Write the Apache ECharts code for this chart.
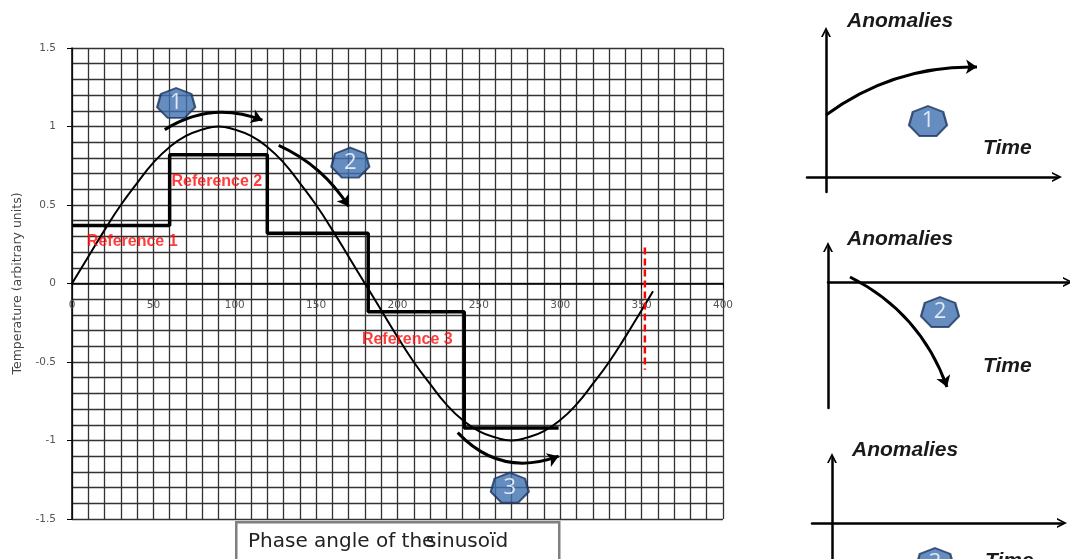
<!DOCTYPE html>
<html><head><meta charset="utf-8">
<script src="https://cdn.jsdelivr.net/npm/echarts@6/dist/echarts.min.js"></script>
<style>html,body{margin:0;padding:0;background:#fff}#c{width:1070px;height:559px}</style>
</head><body><div id="c"></div>
<script>
// ---------------- data ----------------
const phaseDeg = [0,10,20,30,40,50,60,70,80,90,100,110,120,130,140,150,160,170,180,190,200,210,220,230,240,250,260,270,280,290,300,310,320,330,340,350,357];
const sinusoid = [0,0.17,0.34,0.5,0.64,0.77,0.87,0.94,0.98,1.0,0.98,0.94,0.87,0.77,0.64,0.5,0.34,0.17,0,-0.17,-0.34,-0.5,-0.64,-0.77,-0.87,-0.94,-0.98,-1.0,-0.98,-0.94,-0.87,-0.77,-0.64,-0.5,-0.34,-0.17,-0.05];
const stepEdges = [0,60,120,182,241,299];
const stepLevels = [0.37,0.82,0.32,-0.18,-0.92];
const refNames = ['Reference 1','Reference 2','Reference 3'];
const refAt = [[37,0.27],[89,0.65],[206,-0.36]];
const markerX = 352;
const markerY = [0.23,-0.55];
const badgeNames = ['1','2','3'];
const badgeAt = [[64,1.15],[171,0.77],[269,-1.30]];
// trend arrows: [from, to]
const arrowFrom = [[57,0.98],[127,0.88],[237,-0.95]];
const arrowTo = [[117,1.04],[170,0.49],[299,-1.10]];
// small anomaly panels (arbitrary sketch units)
const panelCurveFrom = [[0,62],[22,5]];
const panelCurveTo = [[151,110],[119,-105]];
const panelBadgeAt = [[102,56],[112,-30],[103,-40]];
const yAxisTitle = 'Temperature (arbitrary units)';

// ---------------- helpers ----------------
function polyPath(n){
  let s='';
  for(let i=0;i<n;i++){const a=-Math.PI/2+2*Math.PI*i/n; s+=(i?'L':'M')+(50+50*Math.cos(a)).toFixed(2)+','+(50+50*Math.sin(a)).toFixed(2);}
  return 'path://'+s+'Z';
}
const hept = polyPath(7);
const chevron = 'path://M0,12L6,0L12,12L9.8,12L6,4.5L2.2,12Z';
const stepData = [];
stepLevels.forEach((v,i)=>{stepData.push([stepEdges[i],v]);stepData.push([stepEdges[i+1],v]);});

const gridColor = '#333';
const gridW = 1.3;
const mainX = {
  gridIndex:0,type:'value',min:0,max:400,interval:50,position:'bottom',offset:-235.5,
  axisLine:{onZero:false,lineStyle:{color:'#000',width:1.5}},
  axisTick:{show:true,length:5,lineStyle:{color:'#000'}},
  axisLabel:{fontSize:10.5,color:'#555',margin:16,fontFamily:'DejaVu Sans'},
  splitLine:{show:true,lineStyle:{color:gridColor,width:gridW}},
  minorTick:{show:false,splitNumber:5},
  minorSplitLine:{show:true,lineStyle:{color:gridColor,width:gridW}}
};
const mainY = {
  gridIndex:0,type:'value',min:-1.5,max:1.5,interval:0.5,
  axisLine:{show:true,onZero:false,lineStyle:{color:'#000',width:1.5}},
  axisTick:{show:true,length:5,lineStyle:{color:'#000'}},
  axisLabel:{fontSize:10.5,color:'#555',margin:16,fontFamily:'DejaVu Sans'},
  splitLine:{show:true,lineStyle:{color:gridColor,width:gridW}},
  minorTick:{show:false,splitNumber:5},
  minorSplitLine:{show:true,lineStyle:{color:gridColor,width:gridW}},
  name:yAxisTitle,nameLocation:'middle',nameGap:48,
  nameTextStyle:{fontSize:12.5,color:'#444',fontFamily:'DejaVu Sans'}
};
function panelAxis(idx,min,max){
  return {gridIndex:idx,type:'value',min:min,max:max,
    axisLine:{show:true,onZero:true,symbol:['none',chevron],symbolSize:[12,10],lineStyle:{color:'#000',width:2.5}},
    axisTick:{show:false},axisLabel:{show:false},splitLine:{show:false}};
}
const badgeStyle = {
  type:'scatter',symbol:hept,symbolSize:[38,30],symbolKeepAspect:false,
  itemStyle:{color:'#3f70b0',borderColor:'#1c355e',borderWidth:2},
  label:{show:true,position:'inside',formatter:'{b}',color:'#fff',fontSize:22,fontFamily:'Open Sans'},
  z:10
};
function arrowSeries(from,to,c,xi,yi,size){
  // curveness bends to the left of the travel direction; reverse when the bend is the other way
  const rev = c<0;
  return {type:'lines',coordinateSystem:'cartesian2d',xAxisIndex:xi,yAxisIndex:yi,
    symbol: rev?['arrow','none']:['none','arrow'], symbolSize:size||11,
    lineStyle:{color:'#000',width:3,opacity:1,curveness:Math.abs(c)},
    data:[{coords: rev?[to,from]:[from,to]}], z:8};
}
const panelText = (t,left,top)=>({type:'text',left:left,top:top,style:{text:t,fontSize:21,fontWeight:'bold',fontStyle:'italic',fill:'#1a1a1a',fontFamily:'Liberation Sans'}});
const gb = {outerBoundsMode:'none',containLabel:false};

const option = {
  animation:false,
  backgroundColor:'#fff',
  grid:[
    Object.assign({left:72,top:48,width:651,height:471},gb),
    Object.assign({left:807,top:32,width:250,height:160},gb),
    Object.assign({left:828,top:247,width:240,height:161},gb),
    Object.assign({left:812,top:458,width:250,height:110},gb)
  ],
  xAxis:[mainX,panelAxis(1,-19,231),panelAxis(2,0,240),panelAxis(3,-20,230)],
  yAxis:[mainY,panelAxis(1,-15,145),panelAxis(2,-126,35),panelAxis(3,-45,65)],
  series:[
    {type:'line',xAxisIndex:0,yAxisIndex:0,smooth:true,showSymbol:false,
      data:phaseDeg.map((x,i)=>[x,sinusoid[i]]),lineStyle:{color:'#000',width:2},z:5},
    {type:'line',xAxisIndex:0,yAxisIndex:0,showSymbol:false,data:stepData,
      lineStyle:{color:'#000',width:3.5},z:6},
    {type:'line',xAxisIndex:0,yAxisIndex:0,showSymbol:false,data:markerY.map(y=>[markerX,y]),
      lineStyle:{color:'#ff0000',width:2.5,type:[7,4]},z:7},
    {type:'scatter',xAxisIndex:0,yAxisIndex:0,symbolSize:1,itemStyle:{color:'transparent'},
      data:refAt.map((p,i)=>({name:refNames[i],value:p})),
      label:{show:true,position:'inside',formatter:'{b}',color:'#ff0a0a',fontSize:16,fontWeight:'bold',fontFamily:'Liberation Sans'},z:9},
    arrowSeries(arrowFrom[0],arrowTo[0],0.25,0,0),
    arrowSeries(arrowFrom[1],arrowTo[1],0.15,0,0),
    arrowSeries(arrowFrom[2],arrowTo[2],-0.33,0,0),
    Object.assign({},badgeStyle,{xAxisIndex:0,yAxisIndex:0,data:badgeAt.map((p,i)=>({name:badgeNames[i],value:p}))}),
    arrowSeries(panelCurveFrom[0],panelCurveTo[0],0.17,1,1),
    arrowSeries(panelCurveFrom[1],panelCurveTo[1],0.2,2,2),
    Object.assign({},badgeStyle,{xAxisIndex:1,yAxisIndex:1,data:[{name:badgeNames[0],value:panelBadgeAt[0]}]}),
    Object.assign({},badgeStyle,{xAxisIndex:2,yAxisIndex:2,data:[{name:badgeNames[1],value:panelBadgeAt[1]}]}),
    Object.assign({},badgeStyle,{xAxisIndex:3,yAxisIndex:3,clip:false,data:[{name:badgeNames[2],value:panelBadgeAt[2]}]})
  ],
  graphic:[
    {type:'rect',left:235,top:521,shape:{width:323,height:60},style:{fill:'#fff',stroke:'#7f7f7f',lineWidth:2.5},z:20},
    {type:'text',left:248,top:532,style:{text:'Phase angle of the',fontSize:20,fill:'#222',fontFamily:'DejaVu Sans'},z:21},
    {type:'text',left:426,top:532,style:{text:'sinusoïd',fontSize:20,fill:'#222',fontFamily:'DejaVu Sans'},z:21},
    panelText('Anomalies',847,11),
    panelText('Time',983,138),
    panelText('Anomalies',847,229),
    panelText('Time',983,356),
    panelText('Anomalies',852,440),
    panelText('Time',985,551)
  ]
};
const chart = echarts.init(document.getElementById('c'),null,{renderer:'canvas'});
chart.setOption(option);
</script></body></html>
